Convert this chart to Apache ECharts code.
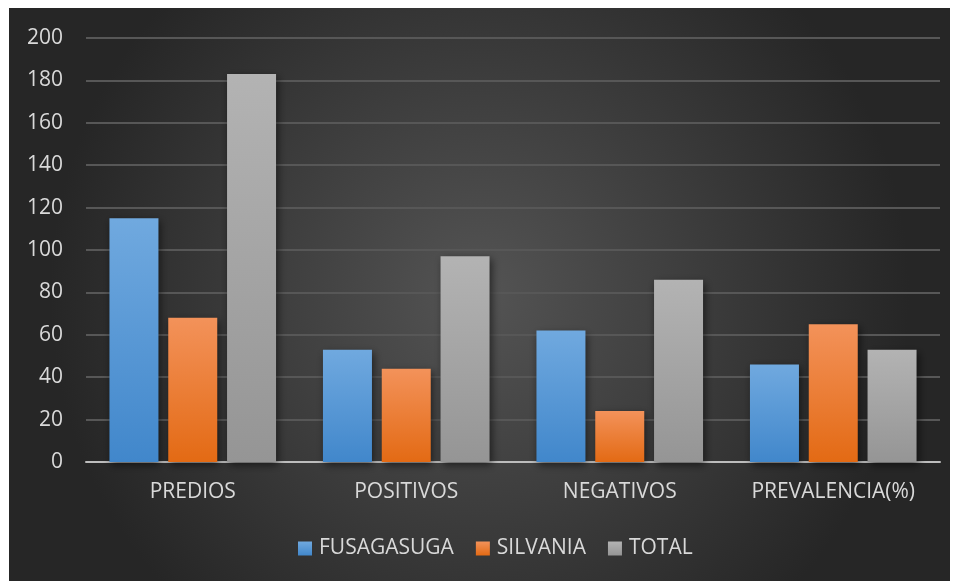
<!DOCTYPE html>
<html>
<head>
<meta charset="utf-8">
<script src="https://cdn.jsdelivr.net/npm/echarts@6/dist/echarts.min.js"></script>
<style>
  html, body { margin: 0; padding: 0; background: #fff; }
  #chart { position: absolute; left: 9px; top: 8px; width: 941px; height: 573px; }
</style>
</head>
<body>
<div id="chart"></div>
<script>
// datos
var categorias = ["PREDIOS", "POSITIVOS", "NEGATIVOS", "PREVALENCIA(%)"];
var fusagasuga = [115, 53, 62, 46];
var silvania = [68, 44, 24, 65];
var total = [183, 97, 86, 53];

var chart = echarts.init(document.getElementById("chart"));

function grad(top, bottom) {
  return new echarts.graphic.LinearGradient(0, 0, 0, 1, [
    { offset: 0, color: top },
    { offset: 1, color: bottom }
  ]);
}

function serie(nombre, datos, arriba, abajo) {
  return {
    name: nombre,
    type: "bar",
    data: datos,
    barWidth: 49,
    barGap: "20%",
    itemStyle: {
      color: grad(arriba, abajo),
      shadowColor: "rgba(0,0,0,0.55)",
      shadowBlur: 8,
      shadowOffsetX: 2,
      shadowOffsetY: 3
    }
  };
}

var fuente = "'Open Sans', 'Noto Sans', sans-serif";

chart.setOption({
  backgroundColor: new echarts.graphic.RadialGradient(0.5, 0.5, 0.75, [
    { offset: 0, color: "#545454" },
    { offset: 1, color: "#262626" }
  ]),
  animation: false,
  textStyle: { fontFamily: fuente },
  grid: { left: 77, right: 10, top: 30, bottom: 119, containLabel: false },
  legend: {
    data: ["FUSAGASUGA", "SILVANIA", "TOTAL"],
    left: 284,
    top: 525,
    itemWidth: 14,
    itemHeight: 14,
    itemGap: 22,
    icon: "rect",
    textStyle: { color: "#d9d9d9", fontSize: 21, fontFamily: fuente, padding: [0, 0, 0, 2] }
  },
  xAxis: {
    type: "category",
    data: categorias,
    axisLine: { lineStyle: { color: "#bdbdbd", width: 2 } },
    axisTick: { show: false },
    axisLabel: { color: "#d9d9d9", fontSize: 21, margin: 20, fontFamily: fuente }
  },
  yAxis: {
    type: "value",
    min: 0,
    max: 200,
    interval: 20,
    axisLine: { show: false },
    axisTick: { show: false },
    axisLabel: { color: "#d9d9d9", fontSize: 21, margin: 23, fontFamily: fuente },
    splitLine: { lineStyle: { color: "#575757", width: 2 } }
  },
  series: [
    serie("FUSAGASUGA", fusagasuga, "#70a9df", "#4187cb"),
    serie("SILVANIA", silvania, "#f3925a", "#e36a14"),
    serie("TOTAL", total, "#b3b3b3", "#959595")
  ]
});
</script>
</body>
</html>
